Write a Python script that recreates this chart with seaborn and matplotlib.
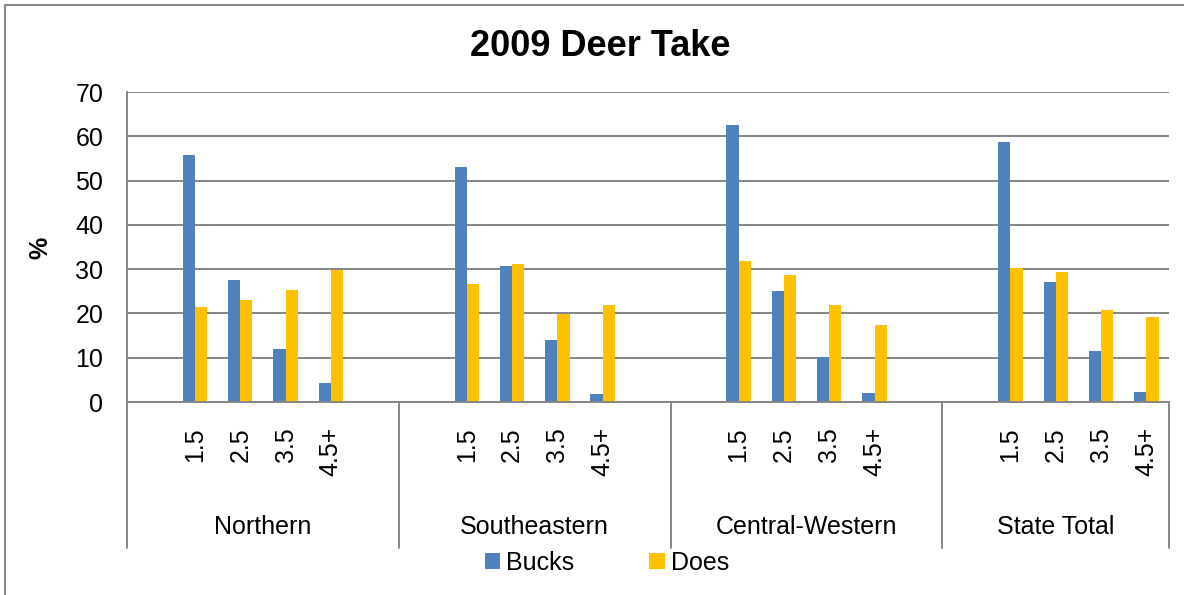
import numpy as np
import pandas as pd
import matplotlib.pyplot as plt
import matplotlib.transforms as mtransforms
from matplotlib.lines import Line2D
import seaborn as sns

# values (% of take)
regions = ['Northern', 'Southeastern', 'Central-Western', 'State Total']
ages = ['1.5', '2.5', '3.5', '4.5+']
bucks = [55.8, 27.5, 12.0, 4.3,
         53.1, 30.8, 13.9, 1.9,
         62.5, 25.1, 10.2, 2.0,
         58.6, 27.2, 11.5, 2.2]
does = [21.4, 23.0, 25.3, 29.9,
        26.6, 31.1, 19.9, 21.9,
        31.9, 28.7, 21.8, 17.5,
        30.2, 29.3, 20.8, 19.2]

sns.set_style('white')
plt.rcParams['font.family'] = ['Liberation Sans', 'DejaVu Sans']
plt.rcParams['text.color'] = 'black'
plt.rcParams['xtick.labelcolor'] = 'black'
plt.rcParams['ytick.labelcolor'] = 'black'

GRID = '#868686'
palette = {'Bucks': '#4F81BD', 'Does': '#FFC000'}

# category slots: an empty slot before each region and after all but the last
order = []
for i, reg in enumerate(regions):
    order.append(f'{reg}_pad0')
    order += [f'{reg}|{a}' for a in ages]
    if i < len(regions) - 1:
        order.append(f'{reg}_pad1')

rows = []
for i, reg in enumerate(regions):
    for j, a in enumerate(ages):
        rows.append({'slot': f'{reg}|{a}', 'sex': 'Bucks', 'pct': bucks[i * 4 + j]})
        rows.append({'slot': f'{reg}|{a}', 'sex': 'Does', 'pct': does[i * 4 + j]})
df = pd.DataFrame(rows)

W, H = 1184, 595
fig = plt.figure(figsize=(W / 100, H / 100), dpi=100)
ax = fig.add_axes([127 / W, (H - 402) / H, (1169 - 127) / W, 310 / H])

sns.barplot(data=df, x='slot', y='pct', hue='sex', order=order,
            hue_order=['Bucks', 'Does'], palette=palette,
            width=0.54, gap=0, saturation=1, errorbar=None,
            linewidth=0, edgecolor='none', ax=ax)

ax.set_ylim(0, 70)
ax.set_xlim(-0.5, len(order) - 0.5)
ax.set_yticks(range(0, 71, 10))
ax.yaxis.grid(True, color=GRID, lw=1.4)
ax.set_axisbelow(True)
for s in ['top', 'right']:
    ax.spines[s].set_visible(False)
for s in ['left', 'bottom']:
    ax.spines[s].set_color(GRID)
    ax.spines[s].set_linewidth(1.4)
ax.tick_params(axis='y', length=5, width=1.4, color=GRID, pad=12, labelsize=18)
ax.set_xlabel('')
ax.set_ylabel('')

# age labels under data slots
pos = [order.index(f'{reg}|{a}') for reg in regions for a in ages]
ax.set_xticks(pos)
ax.set_xticklabels(ages * len(regions), rotation=90, fontsize=18)
ax.tick_params(axis='x', length=0, pad=18)

# region labels and separators
trans = mtransforms.blended_transform_factory(ax.transData, ax.transAxes)
bounds = [-0.5]
for reg in regions:
    idx = [k for k, o in enumerate(order) if o.startswith(reg)]
    bounds.append(max(idx) + 0.5)
for b in bounds:
    ax.plot([b, b], [0, -146 / 310], transform=trans, color=GRID, lw=1.4,
            clip_on=False)
for k, reg in enumerate(regions):
    ax.text((bounds[k] + bounds[k + 1]) / 2, -125 / 310, reg, transform=trans,
            ha='center', va='center', fontsize=18)

sns.move_legend(ax, 'center', bbox_to_anchor=(607 / W, (H - 563) / H),
                bbox_transform=fig.transFigure, ncol=2, title=None,
                frameon=False, fontsize=18, handlelength=0.62,
                handleheight=0.62, handletextpad=0.25, columnspacing=3.0,
                labelcolor='black')

fig.text(600 / W, (H - 47) / H, '2009 Deer Take', ha='center', va='center',
         fontsize=26, fontweight='bold', color='black')
fig.text(40 / W, (H - 248) / H, '%', ha='center', va='center', rotation=90,
         fontsize=18, fontweight='bold', color='black')

# chart frame (left and top edges visible)
fig.add_artist(Line2D([5 / W, 5 / W], [0, 1 - 5 / H], color=GRID, lw=1.4))
fig.add_artist(Line2D([5 / W, 1], [1 - 5 / H, 1 - 5 / H], color=GRID, lw=1.4))

fig.savefig('out.png', dpi=100)
